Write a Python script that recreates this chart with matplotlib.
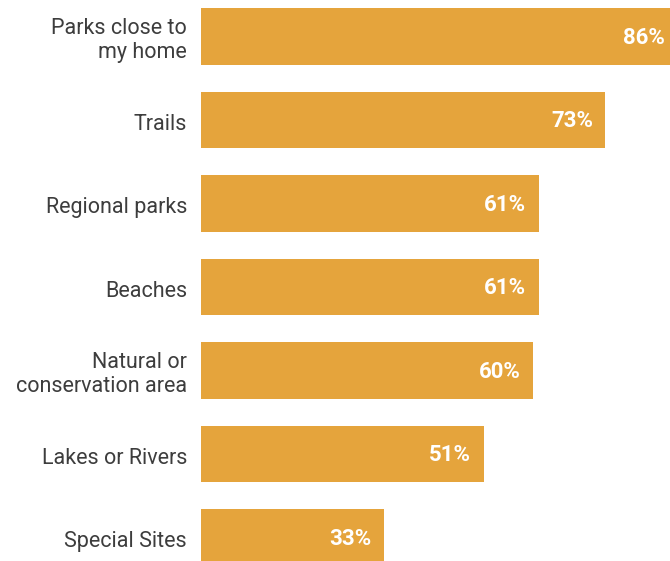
import matplotlib
matplotlib.use('Agg')
import matplotlib.pyplot as plt

categories = ['Parks close to\nmy home', 'Trails', 'Regional parks', 'Beaches',
              'Natural or\nconservation area', 'Lakes or Rivers', 'Special Sites']
values = [86, 73, 61, 61, 60, 51, 33]
value_labels = ['86%', '73%', '61%', '61%', '60%', '51%', '33%']

bar_color = '#E5A43C'
text_color = '#3d3d3d'
plt.rcParams['font.family'] = ['Roboto', 'DejaVu Sans']

fig = plt.figure(figsize=(6.7, 5.61), dpi=100)
ax = fig.add_axes([201 / 670, 0, 1 - 201 / 670, 1])

ypos = list(range(len(categories)))
ax.barh(ypos, values, height=0.68, color=bar_color)

# the longest bar runs past the right edge, as in the original
ax.set_xlim(0, 84.66)
ax.set_ylim(6.281, -0.437)

for y, v, lab in zip(ypos, values, value_labels):
    ax.annotate(lab, (v, y), xytext=(-9, -1), textcoords='offset points',
                ha='right', va='center', color='white', fontsize=16, fontweight='bold',
                annotation_clip=False)

for y, cat in zip(ypos, categories):
    ax.annotate(cat, (0, y), xytext=(-10, -3), textcoords='offset points',
                ha='right', va='center', color=text_color, fontsize=15.5,
                linespacing=1.2, annotation_clip=False)

ax.axis('off')
fig.savefig('out.png', dpi=100)
